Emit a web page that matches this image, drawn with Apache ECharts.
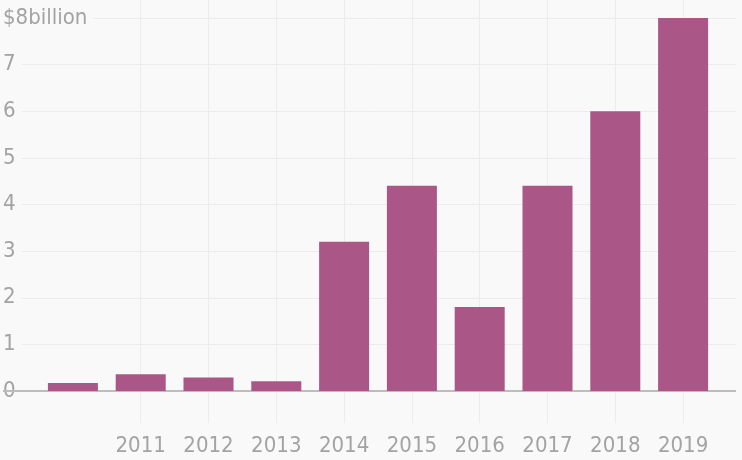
<!DOCTYPE html>
<html><head><meta charset="utf-8">
<script src="https://cdn.jsdelivr.net/npm/echarts@6/dist/echarts.min.js"></script>
<style>html,body{margin:0;padding:0;background:#f9f9f9}#c{width:742px;height:460px}</style>
</head><body><div id="c"></div>
<script>
const categories = ['2010','2011','2012','2013','2014','2015','2016','2017','2018','2019'];
const values = [0.17, 0.36, 0.29, 0.21, 3.2, 4.4, 1.8, 4.4, 6.0, 8.0];
const yTicks = [0,1,2,3,4,5,6,7,8];
const yTopLabel = '$8billion';

const FONT = '"Liberation Sans Narrow","DejaVu Sans Condensed",sans-serif';
const GRAY = '#a3a3a3';
const chart = echarts.init(document.getElementById('c'));
chart.setOption({
  backgroundColor: '#f9f9f9',
  animation: false,
  grid: [
    {left: 39, right: 25, top: 18, bottom: 69},
    {left: 0, right: 6, top: 18, bottom: 69},
    {left: 39, right: 25, top: 0, bottom: 37}
  ],
  xAxis: [
    {type: 'category', gridIndex: 0, data: categories,
     axisLine: {show: false}, axisTick: {show: false},
     axisLabel: {interval: (i) => i > 0, color: GRAY, fontFamily: FONT, fontSize: 22, margin: 44}},
    {type: 'value', gridIndex: 1, show: false, min: 0, max: 1},
    {type: 'category', gridIndex: 2, data: categories,
     axisLine: {show: false}, axisTick: {show: false}, axisLabel: {show: false},
     splitLine: {show: true, alignWithLabel: true, interval: (i) => i > 0, lineStyle: {color: '#ececec', width: 1}}}
  ],
  yAxis: [
    {type: 'value', gridIndex: 0, min: 0, max: 8, interval: 1, show: false},
    {type: 'value', gridIndex: 1, min: 0, max: 8, interval: 1, z: 3,
     axisLine: {show: false}, axisTick: {show: false},
     splitLine: {show: true, lineStyle: {color: ['#bdbdbd','#ececec','#ececec','#ececec','#ececec','#ececec','#ececec','#ececec','#ececec'], width: 1}},
     axisLabel: {inside: true, margin: 0, align: 'left', color: GRAY, fontFamily: FONT, fontSize: 22,
       backgroundColor: '#f9f9f9', padding: [0, 6, 0, 0],
       formatter: (v) => v === yTicks[yTicks.length - 1] ? yTopLabel : String(v)}},
    {type: 'value', gridIndex: 2, show: false, min: 0, max: 1}
  ],
  series: [
    {type: 'bar', xAxisIndex: 0, yAxisIndex: 0, data: values, barWidth: 50,
     itemStyle: {color: '#aa5787'}, z: 5},
    {type: 'line', xAxisIndex: 1, yAxisIndex: 1, data: [], z: 2, silent: true,
     markLine: {silent: true, symbol: 'none', label: {show: false},
       lineStyle: {color: '#bdbdbd', type: 'solid', width: 2}, data: [{yAxis: yTicks[0]}]}}
  ]
});
</script></body></html>
